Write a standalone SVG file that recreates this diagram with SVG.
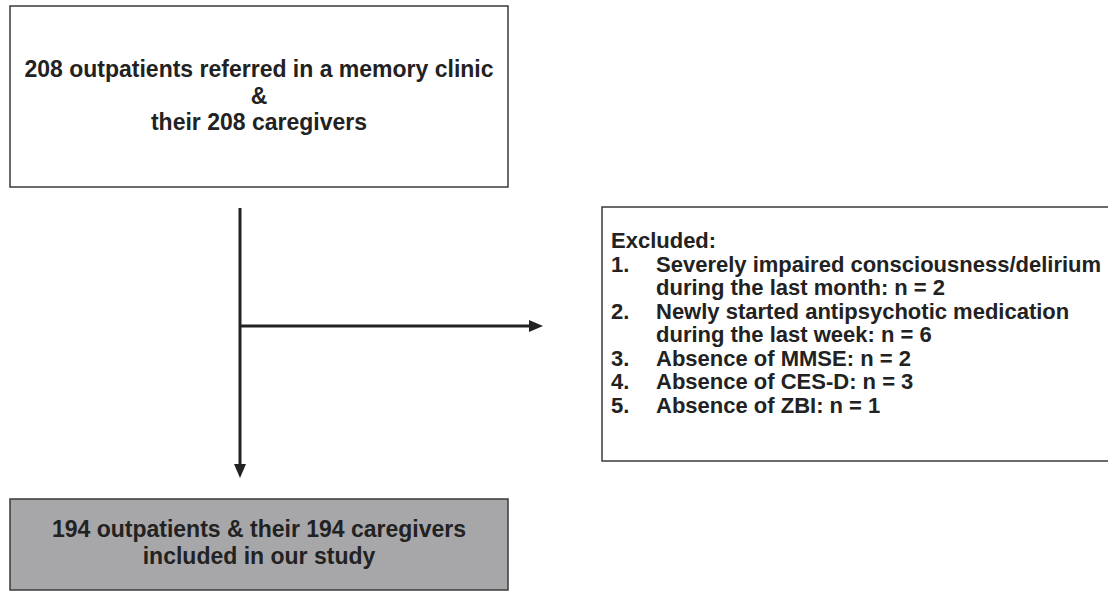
<svg xmlns="http://www.w3.org/2000/svg" width="1108" height="591" viewBox="0 0 1108 591">
<style>
  .box { fill: #ffffff; stroke: #3a3a3a; stroke-width: 1.5; }
  .gray { fill: #a7a7aa; stroke: #3a3a3a; stroke-width: 1.5; }
  .t { font-family: "Liberation Sans", Arial, sans-serif; font-weight: bold; fill: #222222; }
  .c { text-anchor: middle; font-size: 23px; }
  .r { font-size: 22px; }
  .line { stroke: #222222; stroke-width: 3; fill: none; }
</style>
<defs>
  <marker id="arrow" viewBox="0 0 14 12" refX="0" refY="6" markerWidth="14" markerHeight="12" markerUnits="userSpaceOnUse" orient="auto">
    <path d="M0,0 L14,6 L0,12 Z" fill="#222222"/>
  </marker>
</defs>
<rect width="1108" height="591" fill="#ffffff"/>
<g id="node-start">
  <rect class="box" x="10" y="6" width="498" height="181"/>
  <text class="t c" x="259" y="77">208 outpatients referred in a memory clinic</text>
  <text class="t c" x="259" y="104">&amp;</text>
  <text class="t c" x="259" y="130">their 208 caregivers</text>
</g>
<g id="node-excluded">
  <rect class="box" x="602" y="207" width="520" height="254"/>
  <text class="t r" x="611" y="248">Excluded:</text>
  <text class="t r" x="611" y="271.5">1.</text>
  <text class="t r" x="656" y="271.5">Severely impaired consciousness/delirium</text>
  <text class="t r" x="656" y="295">during the last month: n = 2</text>
  <text class="t r" x="611" y="318.5">2.</text>
  <text class="t r" x="656" y="318.5">Newly started antipsychotic medication</text>
  <text class="t r" x="656" y="342">during the last week: n = 6</text>
  <text class="t r" x="611" y="365.5">3.</text>
  <text class="t r" x="656" y="365.5">Absence of MMSE: n = 2</text>
  <text class="t r" x="611" y="389">4.</text>
  <text class="t r" x="656" y="389">Absence of CES-D: n = 3</text>
  <text class="t r" x="611" y="412.5">5.</text>
  <text class="t r" x="656" y="412.5">Absence of ZBI: n = 1</text>
</g>
<g id="node-included">
  <rect class="gray" x="10" y="499" width="498" height="91"/>
  <text class="t c" x="259" y="537">194 outpatients &amp; their 194 caregivers</text>
  <text class="t c" x="259" y="564">included in our study</text>
</g>
<g id="connectors">
  <line class="line" x1="240" y1="208" x2="240" y2="464" marker-end="url(#arrow)"/>
  <line class="line" x1="240" y1="326" x2="529" y2="326" marker-end="url(#arrow)"/>
</g>
</svg>
